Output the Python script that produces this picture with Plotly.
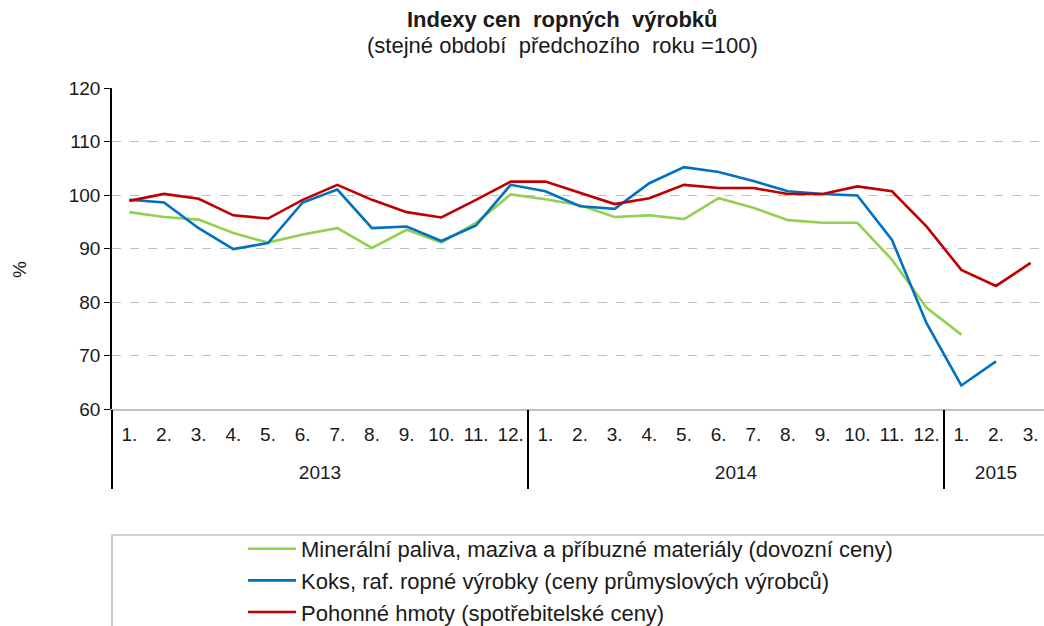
import plotly.graph_objects as go

years = ["2013"] * 12 + ["2014"] * 12 + ["2015"] * 3
months = [f"{i}." for i in range(1, 13)] * 2 + ["1.", "2.", "3."]

mineral = [96.8, 95.9, 95.4, 92.9, 91.1, 92.6, 93.8, 90.1, 93.5, 91.1, 94.8, 100.1,
           99.2, 98.1, 95.9, 96.2, 95.5, 99.4, 97.6, 95.3, 94.8, 94.8, 87.9, 78.9,
           73.9, None, None]
koks = [99.1, 98.6, 93.8, 89.9, 91.0, 98.6, 101.0, 93.8, 94.1, 91.4, 94.3, 101.9,
        100.7, 97.9, 97.4, 102.2, 105.2, 104.3, 102.6, 100.7, 100.2, 99.9, 91.6, 76.0,
        64.4, 68.9, None]
pohonne = [98.9, 100.2, 99.3, 96.2, 95.6, 99.1, 101.9, 99.1, 96.8, 95.8, 99.1, 102.5,
           102.5, 100.4, 98.3, 99.4, 101.9, 101.3, 101.3, 100.2, 100.2, 101.6, 100.7, 94.1,
           86.0, 83.0, 87.3]

names = [
    "Minerální paliva, maziva a příbuzné materiály (dovozní ceny)",
    "Koks, raf. ropné výrobky (ceny průmyslových výrobců)",
    "Pohonné hmoty (spotřebitelské ceny)",
]
colors = ["#92d050", "#0070c0", "#c00000"]
REF = 100
Y_TICKS = [60, 70, 80, 90, 100, 110, 120]

FONT = "Liberation Sans, Arial, sans-serif"
TXT = "#1a1a1a"

# category positions (index of each month)
idx = list(range(len(months)))
year_names = list(dict.fromkeys(years))
year_centers = [sum(i for i, y in enumerate(years) if y == yn) /
                years.count(yn) for yn in year_names]
bounds = [-0.5] + [i - 0.5 for i in range(1, len(years)) if years[i] != years[i - 1]] \
         + [len(years) - 0.5]
xrange_ = [-0.5, len(months) - 0.5]

fig = go.Figure()
for i, (vals, name, col) in enumerate(zip([mineral, koks, pohonne], names, colors)):
    fig.add_trace(go.Scatter(
        x=idx, y=vals, mode="lines", name=name,
        line=dict(color=col, width=2.6), legendgroup=f"g{i}",
        connectgaps=False,
    ))
# invisible traces to activate helper axes
fig.add_trace(go.Scatter(x=[], y=[], xaxis="x2", showlegend=False, hoverinfo="skip"))
fig.add_trace(go.Scatter(x=[], y=[], xaxis="x3", showlegend=False, hoverinfo="skip"))

fig.add_hline(y=REF, line=dict(color="black", width=1.5), layer="below")

W, H = 1048, 626
L, R, T, B = 112, 0, 88, 217
pw, ph = W - L - R, H - T - B

def px(x):
    return (x - L) / pw

def py(y):
    return (H - B - y) / ph

fig.update_layout(
    width=W, height=H,
    margin=dict(l=L, r=R, t=T, b=B, autoexpand=False),
    paper_bgcolor="white", plot_bgcolor="white",
    font=dict(family=FONT, size=19, color=TXT),
    showlegend=True,
    legend=dict(
        x=px(243), y=py(528), xanchor="left", yanchor="top",
        font=dict(family=FONT, size=22, color=TXT),
        tracegroupgap=0, bgcolor="rgba(0,0,0,0)", itemwidth=48,
    ),
    xaxis=dict(
        range=xrange_, tickvals=idx, ticktext=months, showgrid=False,
        showline=True, linecolor="#bfbfbf", linewidth=1.5,
        ticks="outside", ticklen=7, tickcolor="rgba(0,0,0,0)", tickangle=0,
        tickfont=dict(size=19), zeroline=False,
    ),
    xaxis2=dict(
        range=xrange_, overlaying="x", anchor="y", side="bottom",
        tickvals=year_centers, ticktext=year_names, showgrid=False, showline=False,
        ticks="outside", ticklen=46, tickcolor="rgba(0,0,0,0)", tickangle=0,
        tickfont=dict(size=19), zeroline=False,
    ),
    xaxis3=dict(
        range=xrange_, overlaying="x", anchor="y", side="bottom",
        tickvals=bounds, showticklabels=False, showgrid=False, showline=False,
        ticks="outside", ticklen=79, tickcolor="black", tickwidth=1.5, zeroline=False,
    ),
    yaxis=dict(
        range=[60, 120], tickvals=Y_TICKS, showgrid=True,
        gridcolor="#bfbfbf", griddash="dash", gridwidth=1,
        showline=True, linecolor="black", linewidth=1.5,
        ticks="outside", ticklen=6, tickcolor="black",
        tickfont=dict(size=19), zeroline=False,
    ),
    annotations=[
        dict(text="<b>Indexy cen  ropných  výrobků</b>", xref="paper", yref="paper",
             x=px(562), y=py(20), xanchor="center", yanchor="middle",
             showarrow=False, font=dict(size=22)),
        dict(text="(stejné období  předchozího  roku =100)", xref="paper", yref="paper",
             x=px(562), y=py(46), xanchor="center", yanchor="middle",
             showarrow=False, font=dict(size=22)),
        dict(text="%", xref="paper", yref="paper", x=px(19), y=py(270),
             xanchor="center", yanchor="middle",
             showarrow=False, textangle=-90, font=dict(size=19)),
    ],
    shapes=[
        dict(type="rect", xref="paper", yref="paper", x0=0, x1=1.05,
             y0=py(535), y1=py(700), line=dict(color="#a6a6a6", width=1.2),
             fillcolor="rgba(0,0,0,0)"),
    ],
)

fig.write_html(
    "out.html",
    config={"displayModeBar": False},
    post_script="document.body.style.margin='0';document.body.style.overflow='hidden';",
)
